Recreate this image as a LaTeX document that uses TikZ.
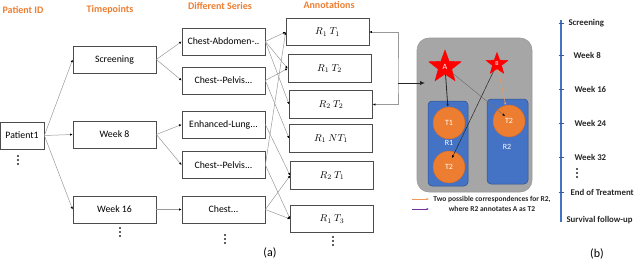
\documentclass[tikz,border=0pt]{standalone}
\usepackage{fontspec}
\setmainfont{Carlito}
\usetikzlibrary{arrows.meta,shapes.geometric,calc}
\definecolor{hdr}{RGB}{237,125,49}
\definecolor{obox}{RGB}{237,125,49}
\definecolor{bbox}{RGB}{68,114,196}
\definecolor{gbox}{RGB}{166,166,166}
\definecolor{purp}{RGB}{112,48,160}
\begin{document}
\begin{tikzpicture}[x=1pt,y=-1pt,
 box/.style={draw=black!70, line width=0.7pt, minimum height=27pt, inner sep=0pt, font=\fontsize{9.8}{11}\selectfont},
 abox/.style={box, minimum width=83pt, minimum height=27.5pt, font=\fontsize{10}{12}\selectfont},
 hdrtxt/.style={text=hdr, font=\bfseries\fontsize{10}{12}\selectfont},
 con/.style={draw=black!40, line width=0.5pt, -{Latex[length=2.6pt,width=2.4pt,color=black]}},
 tl/.style={anchor=west, font=\bfseries\fontsize{8.8}{10}\selectfont, text=black!85},
 circ/.style={circle, fill=obox, draw=obox!85!black, line width=0.4pt, minimum size=32pt, inner sep=0pt, text=white, font=\fontsize{8}{9}\selectfont},
 rbox/.style={draw=bbox!70!black, line width=0.5pt, fill=bbox, rounded corners=4pt, inner sep=0pt},
]
\useasboundingbox (0,0) rectangle (640,265);

% headers
\node[hdrtxt] (hP) at (23,10) {Patient ID};
\node[hdrtxt] (hT) at (110,10) {Timepoints};
\node[hdrtxt] (hS) at (220,6) {Different Series};
\node[hdrtxt] (hA) at (329,5) {Annotations};

% patient and timepoints
\node[box, minimum width=44pt] (p1) at (22,135.5) {Patient1};
\node[box, minimum width=83pt] (scr) at (114.5,59.5) {Screening};
\node[box, minimum width=83pt] (w8) at (114.5,134.5) {Week 8};
\node[box, minimum width=83pt] (w16) at (114.5,209.5) {Week 16};

% series
\node[box, minimum width=83pt] (ca) at (223.5,41.5) {Chest-Abdomen-..};
\node[box, minimum width=83pt] (cp1) at (223.5,80.5) {Chest-{}-Pelvis...};
\node[box, minimum width=83pt] (el) at (223.5,124.5) {Enhanced-Lung...};
\node[box, minimum width=83pt] (cp2) at (223.5,165) {Chest-{}-Pelvis...};
\node[box, minimum width=83pt] (ch) at (223.5,209.5) {Chest...};

% annotations
\node[abox] (r11) at (327.5,32) {$R_1\ T_1$};
\node[abox] (r12) at (329.5,68.5) {$R_1\ T_2$};
\node[abox] (r22) at (331,104.5) {$R_2\ T_2$};
\node[abox] (rn1) at (331,138.5) {$R_1\ NT_1$};
\node[abox] (r21) at (332,175.5) {$R_2\ T_1$};
\node[abox] (r13) at (332,219) {$R_1\ T_3$};

% connectors
\draw[con] (p1.east) -- (scr.west);
\draw[con] (p1.east) -- (w8.west);
\draw[con] (p1.east) -- (w16.west);
\draw[con] (scr.east) -- (ca.west);
\draw[con] (scr.east) -- (cp1.west);
\draw[con] (w8.east) -- (el.west);
\draw[con] (w8.east) -- (cp2.west);
\draw[con] (w16.east) -- (ch.west);
\draw[con] (ca.east) -- (r11.west);
\draw[con] (ca.east) -- (r12.west);
\draw[con] (ca.east) -- (r22.west);
\draw[con] (cp1.east) -- (r12.west);
\draw[con] (cp1.east) -- (rn1.west);
\draw[con] (el.east) -- (r21.west);
\draw[con] (cp2.east) -- (r11.west);
\draw[con] (cp2.east) -- (r13.west);
\draw[con] (ch.east) -- (r21.west);
\draw[con] (ch.east) -- (r13.west);

% dots
\foreach \cx/\cy in {18/156, 120/228, 225/235, 333/237, 577/169}
  \foreach \d in {0,4,8} \fill[black!85] (\cx,\cy+\d) circle (1.1pt);

% panel b: grey box
\node[draw=black!40, line width=0.6pt, fill=gbox, rounded corners=12pt, minimum width=115pt, minimum height=154pt, inner sep=0pt] (gb) at (474.5,115) {};
\node[rbox, minimum width=40pt, minimum height=85pt] (R1) at (448,143.5) {};
\node[rbox, minimum width=41pt, minimum height=85pt] (R2) at (507.5,141.5) {};
\node[text=white, font=\fontsize{8}{9}\selectfont] (R1l) at (449,143) {R1};
\node[text=white, font=\fontsize{8}{9}\selectfont] (R2l) at (507,147) {R2};
\node[circ] (t1) at (449,123) {T1};
\node[circ] (t2a) at (449,167) {T2};
\node[circ] (t2b) at (509,121) {T2};
\node[star, star points=5, star point ratio=2.4, fill=red, draw=red, minimum size=34pt, inner sep=0pt, text=white, font=\fontsize{8}{9}\selectfont] (A) at (445,67) {A};
\node[star, star points=5, star point ratio=2.4, fill=red, draw=red, minimum size=23pt, inner sep=0pt, text=white, font=\fontsize{6}{7}\selectfont] (B) at (497,64) {B};

\draw[black!85, line width=0.8pt, -{Latex[length=3pt,width=2.6pt]}] (A) -- (t1);
\draw[black!55, line width=0.5pt, -{Latex[length=2.6pt,width=2.4pt,color=black]}] (A) -- ($(t2b.center)+(-4,-5)$);
\draw[black!85, line width=0.5pt, -{Latex[length=2.6pt,width=2.4pt,color=black]}] (B) -- ($(t2a.center)+(3,-9)$);
\draw[obox!80!white, line width=0.5pt, -{Latex[length=2.6pt,width=2.4pt]}] (B) -- (t2b);

% loop and arrow into panel
\coordinate (lp) at (398,83);
\coordinate (gin) at (425,83);
\draw[draw=black!40, line width=0.6pt, {Latex[length=2.6pt,width=2.4pt,color=black]}-{Latex[length=2.6pt,width=2.4pt,color=black]}] (r11.east) -| (lp) |- (r22.east);
\draw[black!85, line width=0.9pt, -{Latex[length=5pt,width=4.5pt]}] (lp) -- (gin);

% legend
\coordinate (lo1) at (412,199);
\coordinate (lo2) at (429,199);
\coordinate (lp1) at (412,209);
\coordinate (lp2) at (429,209);
\draw[obox!80!white, line width=0.7pt, -{Latex[length=2.5pt,width=2.4pt]}] (lo1) -- (lo2);
\draw[purp, line width=0.7pt, -{Latex[length=2.5pt,width=2.4pt]}] (lp1) -- (lp2);
\node[font=\bfseries\fontsize{7.5}{10}\selectfont, align=center, text=black!85] (leg) at (492,204) {Two possible correspondences for R2,\\where R2 annotates A as T2};

% timeline
\coordinate (tl0) at (561,20);
\coordinate (tl1) at (561,222);
\draw[bbox, line width=1.5pt] (tl0) -- (tl1);
\foreach \yy in {23,55,89,123,157,192} \draw[bbox!80!black, line width=0.6pt] (558.5,\yy) -- (563.5,\yy);
\node[tl] (s0) at (565,23) {Screening};
\node[tl] (s1) at (570,55) {Week 8};
\node[tl] (s2) at (571,89) {Week 16};
\node[tl] (s3) at (571,123) {Week 24};
\node[tl] (s4) at (571,157) {Week 32};
\node[tl] (s5) at (567,192) {End of Treatment};
\node[tl] (s6) at (563,220) {Survival follow-up};

% panel labels
\node[font=\fontsize{12}{14}\selectfont] (la) at (270,253) {(a)};
\node[font=\fontsize{12}{14}\selectfont] (lb) at (597,254) {(b)};
\end{tikzpicture}
\end{document}
